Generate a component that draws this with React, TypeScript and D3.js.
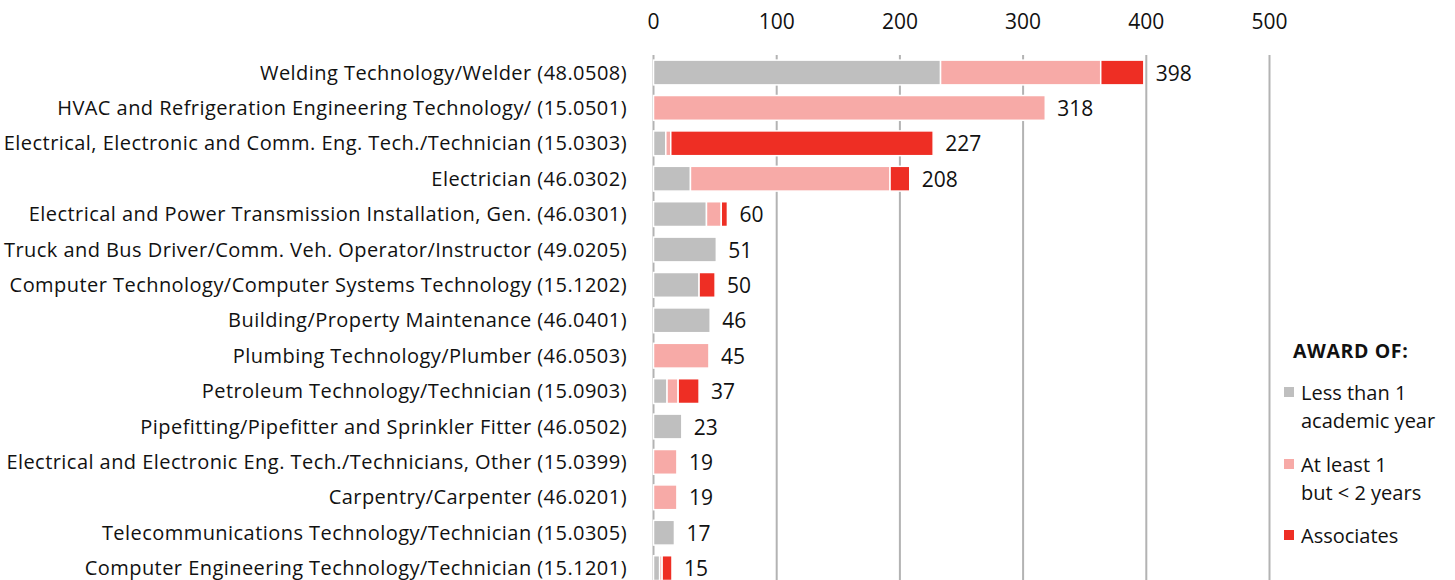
import React from "react";
import * as d3 from "d3";

const categories = [
  "Welding Technology/Welder (48.0508)",
  "HVAC and Refrigeration Engineering Technology/ (15.0501)",
  "Electrical, Electronic and Comm. Eng. Tech./Technician (15.0303)",
  "Electrician (46.0302)",
  "Electrical and Power Transmission Installation, Gen. (46.0301)",
  "Truck and Bus Driver/Comm. Veh. Operator/Instructor (49.0205)",
  "Computer Technology/Computer Systems Technology (15.1202)",
  "Building/Property Maintenance (46.0401)",
  "Plumbing Technology/Plumber (46.0503)",
  "Petroleum Technology/Technician (15.0903)",
  "Pipefitting/Pipefitter and Sprinkler Fitter (46.0502)",
  "Electrical and Electronic Eng. Tech./Technicians, Other (15.0399)",
  "Carpentry/Carpenter (46.0201)",
  "Telecommunications Technology/Technician (15.0305)",
  "Computer Engineering Technology/Technician (15.1201)",
];
const lessThan1 = [233, 0, 10, 30, 43, 51, 37, 46, 0, 11, 23, 0, 0, 17, 5];
const atLeast1 = [130, 318, 4, 162, 12, 0, 0, 0, 45, 9, 0, 19, 19, 0, 2];
const associates = [35, 0, 213, 16, 5, 0, 13, 0, 0, 17, 0, 0, 0, 0, 8];
const totals = [398, 318, 227, 208, 60, 51, 50, 46, 45, 37, 23, 19, 19, 17, 15];
const xTicks = [0, 100, 200, 300, 400, 500];
const seriesKeys = ["lessThan1", "atLeast1", "associates"];
const seriesColors = ["#bfbfbf", "#f7aaa7", "#ee2e24"];
const legendTitle = "AWARD OF:";
const legendLabels = [
  ["Less than 1", "academic year"],
  ["At least 1", "but < 2 years"],
  ["Associates"],
];

const FONT = "'Open Sans', 'Noto Sans', sans-serif";

export default function App() {
  const W = 1455;
  const H = 580;
  const x = d3.scaleLinear().domain([0, 500]).range([653.5, 1269.5]);
  const y = d3
    .scaleBand<string>()
    .domain(categories)
    .range([54.8, 585.8])
    .paddingInner(0.3)
    .paddingOuter(0.15);

  const rows = categories.map((c, i) => ({
    cat: c,
    lessThan1: lessThan1[i],
    atLeast1: atLeast1[i],
    associates: associates[i],
  }));
  const stacked = d3.stack<any>().keys(seriesKeys)(rows);

  const legendX = 1284;
  const legendItemsY = [392, 464, 535];

  return (
    <svg
      width={W}
      height={H}
      style={{ position: "absolute", left: 0, top: 0, background: "#fff" }}
      fontFamily={FONT}
    >
      {/* grid */}
      {xTicks.map((t) => (
        <line
          key={"g" + t}
          x1={x(t)}
          x2={x(t)}
          y1={55}
          y2={H}
          stroke="#b3b3b3"
          strokeWidth={2}
        />
      ))}
      {/* tick labels */}
      {xTicks.map((t) => (
        <text
          key={"t" + t}
          x={x(t)}
          y={21}
          textAnchor="middle"
          dominantBaseline="central"
          fontSize={21}
          fill="#111"
        >
          {t}
        </text>
      ))}
      {/* bars */}
      {stacked.map((s, si) =>
        s.map((d, i) =>
          d[1] - d[0] > 0 ? (
            <rect
              key={si + "-" + i}
              x={x(d[0])}
              y={y(categories[i])!}
              width={x(d[1]) - x(d[0])}
              height={y.bandwidth()}
              fill={seriesColors[si]}
              stroke="#fff"
              strokeWidth={1.5}
            />
          ) : null
        )
      )}
      {/* category labels */}
      {categories.map((c) => (
        <text
          key={"c" + c}
          x={627}
          y={y(c)! + y.bandwidth() / 2 - 0.5}
          textAnchor="end"
          dominantBaseline="central"
          fontSize={20}
          letterSpacing={0.45}
          fill="#111"
        >
          {c}
        </text>
      ))}
      {/* value labels */}
      {categories.map((c, i) => (
        <text
          key={"v" + c}
          x={x(totals[i]) + 12}
          y={y(c)! + y.bandwidth() / 2}
          dominantBaseline="central"
          fontSize={21}
          fill="#111"
        >
          {totals[i]}
        </text>
      ))}
      {/* legend */}
      <text
        x={1293}
        y={350}
        dominantBaseline="central"
        fontSize={19.5}
        fontWeight="bold"
        letterSpacing={0.6}
        fill="#111"
      >
        {legendTitle}
      </text>
      {legendLabels.map((lines, i) => (
        <g key={"l" + i}>
          <rect
            x={legendX}
            y={legendItemsY[i] - 5}
            width={10}
            height={10}
            fill={seriesColors[i]}
          />
          {lines.map((ln, j) => (
            <text
              key={j}
              x={1301}
              y={legendItemsY[i] + j * 28}
              dominantBaseline="central"
              fontSize={20}
              fill="#111"
            >
              {ln}
            </text>
          ))}
        </g>
      ))}
    </svg>
  );
}
